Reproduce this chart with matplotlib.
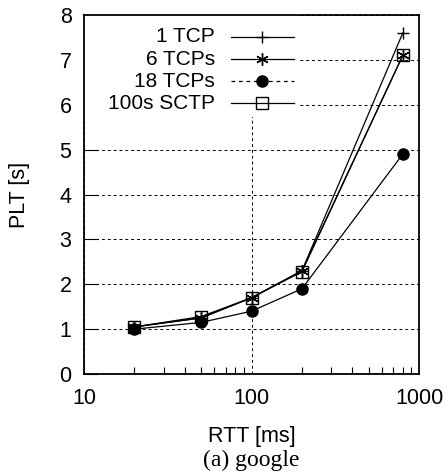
import numpy as np
import matplotlib.pyplot as plt
from matplotlib.patches import Rectangle

# RTT values (ms) and page load times (s)
rtt = [20, 50, 100, 200, 800]
tcp_1 = [1.05, 1.25, 1.7, 2.3, 7.6]
tcp_6 = [1.05, 1.25, 1.7, 2.3, 7.1]
tcp_18 = [1.0, 1.15, 1.4, 1.9, 4.9]
sctp_100 = [1.05, 1.28, 1.7, 2.28, 7.1]

series = [
    ('1 TCP', tcp_1, dict(marker='+', markersize=9, mew=1.0, linestyle='-')),
    ('6 TCPs', tcp_6, dict(marker=(6, 2, 0), markersize=9, mew=1.0, linestyle='-')),
    ('18 TCPs', tcp_18, dict(marker='o', markersize=8, mfc='black', linestyle='-')),
    ('100s SCTP', sctp_100, dict(marker='s', markersize=8, mfc='none', mew=1.0, linestyle='-')),
]
legend_styles = ['-', '-', (0, (3, 3)), '-']

plt.rcParams['font.family'] = ['Liberation Sans', 'DejaVu Sans']

fig = plt.figure(figsize=(4.48, 4.75), dpi=100)
ax = fig.add_axes([0.1875, 0.2126, 0.7478, 0.7558])

for name, vals, st in series:
    ax.plot(rtt, vals, color='black', lw=0.9, mec='black', zorder=3, **st)

ax.set_xscale('log')
ax.set_xlim(10, 1000)
ax.set_ylim(0, 8)
ax.set_yticks(range(0, 9))
ax.set_xticks([10, 100, 1000])
ax.set_xticklabels(['10', '100', '1000'])
ax.tick_params(axis='x', which='major', direction='in', length=0, labelsize=15.5, pad=10)
ax.tick_params(axis='x', which='minor', direction='in', length=5, width=0.8, labelbottom=False)
ax.tick_params(axis='y', which='major', direction='in', length=10, width=0.8, labelsize=15.5, pad=9)
ax.grid(True, which='major', color='black', linestyle=(0, (3, 3)), linewidth=0.7)
for s in ax.spines.values():
    s.set_linewidth(1.3)

ax.set_xlabel('RTT [ms]', fontsize=15.5, labelpad=12)
ax.set_ylabel('PLT [s]', fontsize=15.5, labelpad=21)

# gnuplot-style key: text on the left, sample on the right, opaque background
ax.add_patch(Rectangle((0, 0.715), 0.645, 0.285, transform=ax.transAxes,
                       facecolor='white', edgecolor='none', zorder=2.5))
ys = [0.94, 0.877, 0.816, 0.754]
for (name, vals, st), y, ls in zip(series, ys, legend_styles):
    ax.text(0.39, y, name, transform=ax.transAxes, ha='right', va='center',
            fontsize=15, zorder=4)
    ax.plot([0.439, 0.628], [y, y], transform=ax.transAxes, color='black',
            lw=0.9, linestyle=ls, zorder=4)
    st2 = {k: v for k, v in st.items() if k != 'linestyle'}
    ax.plot([0.532], [y], transform=ax.transAxes, color='black', mec='black',
            linestyle='none', zorder=4, **st2)

fig.text(0.5 * (0.1875 + 0.935), 1 - 460 / 475, '(a) google', ha='center', va='center',
         fontsize=17, family='Liberation Serif')

fig.savefig('out.png', dpi=100)
